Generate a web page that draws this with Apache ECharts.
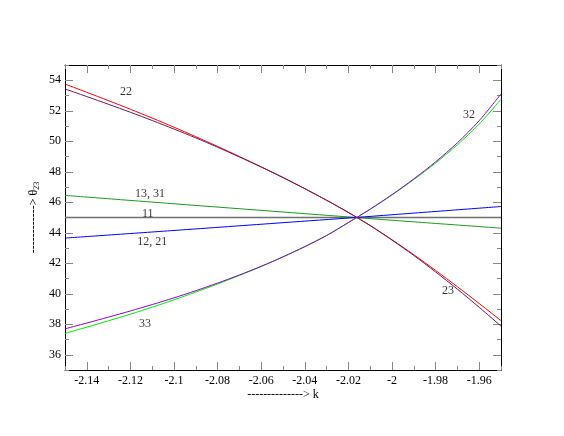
<!DOCTYPE html>
<html>
<head>
<meta charset="utf-8">
<script src="https://cdn.jsdelivr.net/npm/echarts@6/dist/echarts.min.js"></script>
<style>html,body{margin:0;padding:0;background:#fff;}#c{width:564px;height:436px;}</style>
</head>
<body>
<div id="c"></div>
<script>
// ---- data ----
var kGrid = [-2.15,-2.14,-2.13,-2.12,-2.11,-2.10,-2.09,-2.08,-2.07,-2.06,-2.05,-2.04,-2.03,-2.02,-2.01,-2.00,-1.99,-1.98,-1.97,-1.96,-1.95];
var theta22red    = [53.75,53.21,52.66,52.10,51.52,50.92,50.30,49.66,49.00,48.32,47.62,46.89,46.13,45.33,44.47,43.54,42.56,41.53,40.46,39.36,38.24];
var theta22maroon = [53.43,52.93,52.42,51.90,51.36,50.80,50.22,49.61,48.97,48.31,47.62,46.89,46.13,45.33,44.47,43.52,42.51,41.43,40.30,39.11,37.88];
var theta33violet = [37.70,38.08,38.47,38.87,39.29,39.73,40.20,40.70,41.23,41.80,42.42,43.09,43.82,44.67,45.55,46.50,47.53,48.65,49.90,51.35,53.10];
var theta33green  = [37.40,37.81,38.23,38.66,39.12,39.60,40.11,40.64,41.20,41.79,42.42,43.09,43.82,44.67,45.54,46.48,47.49,48.57,49.77,51.13,52.75];

var kLine = [-2.15,-2.10,-2.05,-2.0167,-2.00,-1.95];
var theta11 = [45,45,45,45,45,45];
var theta1221 = [43.65,44.15,44.66,45.0,45.18,45.72];
var theta1331 = [46.45,45.9,45.36,45.0,44.82,44.3];

var xMajorTicks = [-2.14,-2.12,-2.10,-2.08,-2.06,-2.04,-2.02,-2.00,-1.98,-1.96];
var xMinorTicks = [-2.15,-2.13,-2.11,-2.09,-2.07,-2.05,-2.03,-2.01,-1.99,-1.97,-1.95];
var xTickLabels = ['-2.14','-2.12','-2.1','-2.08','-2.06','-2.04','-2.02','-2','-1.98','-1.96'];
var yMajorTicks = [36,38,40,42,44,46,48,50,52,54];
var yMinorTicks = [35,37,39,41,43,45,47,49,51,53,55];
var yTickLabels = ['36','38','40','42','44','46','48','50','52','54'];

var annText  = ['22','32','13, 31','11','12, 21','33','23'];
var annK     = [-2.122,-1.9647,-2.111,-2.112,-2.110,-2.1133,-1.9743];
var annTheta = [53.22,51.72,46.54,45.22,43.41,38.05,40.2];

// ---- build chart ----
var FONT = 'Liberation Serif';
var TICK = '#888';
function zip(a,b){var r=[];for(var i=0;i<a.length;i++)r.push([a[i],b[i]]);return r;}

function xAx(pos, vals, len, line, labels){
  return {type:'value', position:pos, min:-2.15, max:-1.95, scale:true,
    axisLine:{show:line, onZero:false, lineStyle:{color:'#000', width:1}},
    axisTick:{show:true, inside:true, length:len, customValues:vals, lineStyle:{color:TICK, width:1}},
    axisLabel:{show:labels, customValues:labels?xMajorTicks:undefined, margin:5, fontFamily:FONT, fontSize:12, color:'#000',
      formatter:function(v){var i=xMajorTicks.indexOf(v);return i>=0?xTickLabels[i]:String(v);}},
    splitLine:{show:false}};
}
function yAx(pos, vals, len, line, labels){
  return {type:'value', position:pos, min:35, max:55, scale:true,
    axisLine:{show:line, onZero:false, lineStyle:{color:'#000', width:1}},
    axisTick:{show:true, inside:true, length:len, customValues:vals, lineStyle:{color:TICK, width:1}},
    axisLabel:{show:labels, customValues:labels?yMajorTicks:undefined, margin:4, fontFamily:FONT, fontSize:12, color:'#000',
      formatter:function(v){var i=yMajorTicks.indexOf(v);return i>=0?yTickLabels[i]:String(v);}},
    splitLine:{show:false}};
}

var xBottom = xAx('bottom', xMajorTicks, 8, true, true);
xBottom.name = '--------------> k';
xBottom.nameLocation = 'middle';
xBottom.nameGap = 19;
xBottom.nameMoveOverlap = false;
xBottom.nameTextStyle = {fontFamily:FONT, fontSize:12, color:'#000'};

var yLeft = yAx('left', yMajorTicks, 8, true, true);
yLeft.name = '{a|------------> θ}{s|23}';
yLeft.nameLocation = 'middle';
yLeft.nameGap = 24;
yLeft.nameRotate = 90;
yLeft.nameMoveOverlap = false;
yLeft.nameTextStyle = {fontFamily:FONT, fontSize:12, color:'#000',
  rich:{a:{fontFamily:FONT, fontSize:12, color:'#000'}, s:{fontFamily:FONT, fontSize:8, color:'#000', padding:[7,0,0,0]}}};

function line(name, xs, ys, color, w){
  return {type:'line', name:name, data:zip(xs,ys), showSymbol:false, symbol:'none', smooth:0.3,
    lineStyle:{color:color, width:w}, itemStyle:{color:color}, z:2, animation:false};
}

var annData = [];
for (var i=0;i<annText.length;i++) annData.push([annK[i], annTheta[i], annText[i]]);

var option = {
  animation:false,
  backgroundColor:'#fff',
  grid:{left:65, right:63, top:65, bottom:66, containLabel:false},
  xAxis:[xBottom, xAx('bottom', xMinorTicks, 4, false, false), xAx('top', xMajorTicks, 8, true, false), xAx('top', xMinorTicks, 4, false, false)],
  yAxis:[yLeft, yAx('left', yMinorTicks, 4, false, false), yAx('right', yMajorTicks, 8, true, false), yAx('right', yMinorTicks, 4, false, false)],
  series:[
    line('11', kLine, theta11, '#707070', 1.4),
    line('13, 31', kLine, theta1331, '#1c9a1c', 1),
    line('12, 21', kLine, theta1221, '#0000ff', 1),
    line('22 red', kGrid, theta22red, '#ff0000', 1),
    line('22 maroon', kGrid, theta22maroon, '#6b1a5e', 1),
    line('33 green', kGrid, theta33green, '#00ee00', 1),
    line('33 violet', kGrid, theta33violet, '#9400d3', 1),
    {type:'scatter', data:annData, symbol:'circle', symbolSize:1, itemStyle:{color:'rgba(0,0,0,0)'}, z:5,
     label:{show:true, position:'inside', fontFamily:FONT, fontSize:12, color:'#000', formatter:function(p){return p.value[2];}}}
  ]
};
var chart = echarts.init(document.getElementById('c'), null, {renderer:'canvas'});
chart.setOption(option);
</script>
</body>
</html>
